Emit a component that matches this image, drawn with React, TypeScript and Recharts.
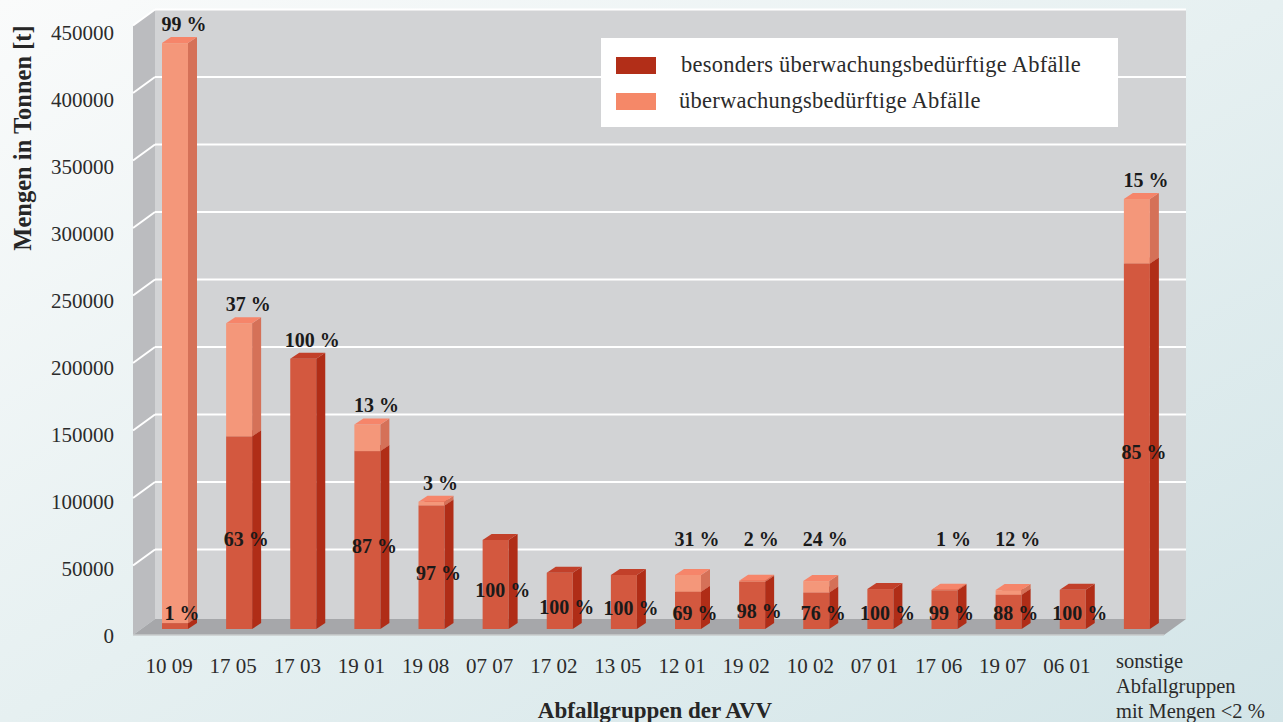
import React from 'react';
import { BarChart, Bar, XAxis, YAxis, CartesianGrid, Legend, LabelList } from 'recharts';

// Waste groups (AVV) and their quantities in tonnes
const categories = [
  '10 09', '17 05', '17 03', '19 01', '19 08', '07 07', '17 02', '13 05',
  '12 01', '19 02', '10 02', '07 01', '17 06', '19 07', '06 01',
  'sonstige\nAbfallgruppen\nmit Mengen <2 %',
];
const totalTonnes = [
  434000, 226500, 200200, 151500, 94300, 66000, 41700, 40000,
  40000, 35800, 35500, 29600, 29000, 28800, 29000, 318500,
];
// share of "besonders überwachungsbedürftige Abfälle" in each group, in percent
const besondersShare = [1, 63, 100, 87, 97, 100, 100, 100, 69, 98, 76, 100, 99, 88, 100, 85];

// label texts printed above each column and inside its lower part
const upperLabels = ['99 %', '37 %', '100 %', '13 %', '3 %', '', '', '', '31 %', '2 %', '24 %', '', '1 %', '12 %', '', '15 %'];
const lowerLabels = ['1 %', '63 %', '', '87 %', '97 %', '100 %', '100 %', '100 %', '69 %', '98 %', '76 %', '100 %', '99 %', '88 %', '100 %', '85 %'];

const yTicks = [0, 50000, 100000, 150000, 200000, 250000, 300000, 350000, 400000, 450000];

const seriesNames = {
  besonders: 'besonders überwachungsbedürftige Abfälle',
  ueber: 'überwachungsbedürftige Abfälle',
};

const rows = categories.map((name, i) => {
  const besonders = (totalTonnes[i] * besondersShare[i]) / 100;
  return {
    name,
    besonders,
    ueber: totalTonnes[i] - besonders,
    upper: upperLabels[i],
    lower: lowerLabels[i],
  };
});

// ---- layout ----
const W = 1283;
const H = 722;
const PLOT_LEFT = 143;
const PLOT_RIGHT = 1169;
const PLOT_TOP = 21.5;
const PLOT_BOTTOM = 629;
const Y_AXIS_W = 60;
const X_AXIS_H = 60;

// pseudo-3D room: back wall, left side wall and floor
const WALL_LEFT = 155;
const WALL_RIGHT = 1186;
const WALL_SHIFT = -12; // back wall sits this far above the column plane
const DEPTH_DX = 22;
const DEPTH_DY = 16;
const WALL_TOP = PLOT_TOP + WALL_SHIFT;
const FLOOR_BACK = PLOT_BOTTOM - 10;
const FLOOR_FRONT = FLOOR_BACK + DEPTH_DY;

// column depth
const BAR_DX = 9;
const BAR_DY = 6;

const FONT = "'Liberation Serif', 'Times New Roman', serif";
const TEXT = '#262626';

const faces = {
  besonders: { front: '#d3583f', side: '#b02d17', top: '#c2402a' },
  ueber: { front: '#f4977a', side: '#d57158', top: '#f6856a' },
};

const makeColumn = (f: { front: string; side: string; top: string }) => (props: any) => {
  const { x, y, width, height } = props;
  if (!(height > 0.05)) return <g />;
  const r = x + width;
  const b = y + height;
  return (
    <g>
      <rect x={x} y={y} width={width} height={height} fill={f.front} />
      <polygon
        points={`${r},${y} ${r + BAR_DX},${y - BAR_DY} ${r + BAR_DX},${b - BAR_DY} ${r},${b}`}
        fill={f.side}
      />
      <polygon
        points={`${x},${y} ${x + BAR_DX},${y - BAR_DY} ${r + BAR_DX},${y - BAR_DY} ${r},${y}`}
        fill={f.top}
      />
    </g>
  );
};

const pctStyle = {
  fontFamily: FONT,
  fontSize: 20,
  fontWeight: 700,
  fill: '#1a1a1a',
};

const UpperLabel = (p: any) => {
  const { x, y, width, value } = p;
  if (!value) return null;
  const cy = Math.min(y - 19, PLOT_BOTTOM - 90);
  return (
    <text x={x + width / 2 + 9} y={cy} textAnchor="middle" dominantBaseline="central" style={pctStyle}>
      {value}
    </text>
  );
};

const LowerLabel = (p: any) => {
  const { x, y, width, height, value } = p;
  if (!value) return null;
  const cy = Math.min(y + height / 2 + 6, PLOT_BOTTOM - 16);
  return (
    <text x={x + width / 2 + 7} y={cy} textAnchor="middle" dominantBaseline="central" style={pctStyle}>
      {value}
    </text>
  );
};

const GridLine = (p: any) => {
  const { y1, index } = p;
  if (y1 > PLOT_BOTTOM - 1) return <g key={`gl-${index}`} />;
  const by = y1 + WALL_SHIFT;
  return (
    <g key={`gl-${index}`}>
      <line x1={WALL_LEFT} y1={by} x2={WALL_RIGHT} y2={by} stroke="#ffffff" strokeWidth={2} />
      <line
        x1={WALL_LEFT - DEPTH_DX}
        y1={by + DEPTH_DY}
        x2={WALL_LEFT}
        y2={by}
        stroke="#ffffff"
        strokeWidth={2}
      />
    </g>
  );
};

// tick labels sit on the front edge of the side wall, slightly compressed by the perspective
const YTick = (p: any) => (
  <text
    x={p.x}
    y={p.y + 7 + (PLOT_BOTTOM - p.y) * 0.0075}
    textAnchor="end"
    dominantBaseline="central"
    style={{ fontFamily: FONT, fontSize: 21, fill: '#2b2b2b' }}
  >
    {p.payload.value}
  </text>
);

const XTick = (p: any) => {
  const lines = String(p.payload.value).split('\n');
  const style = { fontFamily: FONT, fontSize: 21, fill: '#2b2b2b' };
  if (lines.length === 1) {
    return (
      <text x={p.x - 6} y={PLOT_BOTTOM + 37} textAnchor="middle" dominantBaseline="central" style={style}>
        {lines[0]}
      </text>
    );
  }
  return (
    <g>
      {lines.map((t, i) => (
        <text
          key={i}
          x={p.x - 21}
          y={PLOT_BOTTOM + 32 + i * 25}
          textAnchor="start"
          dominantBaseline="central"
          style={{ ...style, fontSize: 20.5 }}
        >
          {t}
        </text>
      ))}
    </g>
  );
};

const LegendBox = (props: any) => {
  const items = props.payload || [];
  return (
    <div
      style={{
        width: 517,
        height: 89,
        background: '#ffffff',
        boxSizing: 'border-box',
        paddingTop: 9,
        paddingLeft: 15,
      }}
    >
      {items.map((it: any, i: number) => (
        <div key={i} style={{ display: 'flex', alignItems: 'center', height: 36 }}>
          <div style={{ width: 40, height: 17, background: it.color, marginRight: i === 0 ? 25 : 23 }} />
          <span
            style={{
              fontFamily: FONT,
              fontSize: 22.5,
              letterSpacing: 0.25,
              color: '#2b2b2b',
              lineHeight: '36px',
            }}
          >
            {it.value}
          </span>
        </div>
      ))}
    </div>
  );
};

const Room = () => (
  <svg width={W} height={H} style={{ position: 'absolute', left: 0, top: 0 }}>
    <defs>
      <linearGradient id="page" x1="0" y1="0" x2="1" y2="1">
        <stop offset="0" stopColor="#fafbfb" />
        <stop offset="0.5" stopColor="#e6f0f1" />
        <stop offset="1" stopColor="#d3e5e8" />
      </linearGradient>
    </defs>
    <rect x={0} y={0} width={W} height={H} fill="url(#page)" />
    {/* back wall */}
    <rect x={WALL_LEFT} y={WALL_TOP} width={WALL_RIGHT - WALL_LEFT} height={FLOOR_BACK - WALL_TOP} fill="#d2d3d5" />
    {/* left side wall */}
    <polygon
      points={`${WALL_LEFT - DEPTH_DX},${WALL_TOP + DEPTH_DY} ${WALL_LEFT},${WALL_TOP} ${WALL_LEFT},${FLOOR_BACK} ${WALL_LEFT - DEPTH_DX},${FLOOR_FRONT}`}
      fill="#bbbcbf"
    />
    {/* floor */}
    <polygon
      points={`${WALL_LEFT},${FLOOR_BACK} ${WALL_RIGHT},${FLOOR_BACK} ${WALL_RIGHT - DEPTH_DX},${FLOOR_FRONT} ${WALL_LEFT - DEPTH_DX},${FLOOR_FRONT}`}
      fill="#a6a7aa"
    />
    <line
      x1={WALL_LEFT - DEPTH_DX}
      y1={FLOOR_FRONT}
      x2={WALL_RIGHT - DEPTH_DX}
      y2={FLOOR_FRONT}
      stroke="#c9cccd"
      strokeWidth={1.5}
    />
  </svg>
);

export default function App() {
  return (
    <div style={{ position: 'absolute', left: 0, top: 0, width: W, height: H, overflow: 'hidden' }}>
      <Room />
      <div style={{ position: 'absolute', left: 0, top: 0 }}>
        <BarChart
          width={W}
          height={H}
          data={rows}
          barSize={26}
          margin={{
            top: PLOT_TOP,
            right: W - PLOT_RIGHT,
            bottom: H - PLOT_BOTTOM - X_AXIS_H,
            left: PLOT_LEFT - Y_AXIS_W,
          }}
        >
          <CartesianGrid vertical={false} horizontal={GridLine} />
          <XAxis
            dataKey="name"
            interval={0}
            axisLine={false}
            tickLine={false}
            tickSize={0}
            height={X_AXIS_H}
            tick={XTick}
            label={() => (
              <text
                x={PLOT_LEFT + (PLOT_RIGHT - PLOT_LEFT) / 2 - 1}
                y={H - 12}
                textAnchor="middle"
                dominantBaseline="central"
                style={{ fontFamily: FONT, fontSize: 23, fontWeight: 700, fill: TEXT }}
              >
                Abfallgruppen der AVV
              </text>
            )}
          />
          <YAxis
            domain={[0, 450000]}
            ticks={yTicks}
            width={Y_AXIS_W}
            axisLine={false}
            tickLine={false}
            tickSize={0}
            tickMargin={29}
            tick={YTick}
            label={() => (
              <text
                x={22}
                y={138}
                transform="rotate(-90, 22, 138)"
                textAnchor="middle"
                dominantBaseline="central"
                style={{ fontFamily: FONT, fontSize: 24.5, fontWeight: 700, fill: TEXT }}
              >
                Mengen in Tonnen [t]
              </text>
            )}
          />
          <Legend
            layout="vertical"
            align="center"
            verticalAlign="middle"
            content={LegendBox}
            wrapperStyle={{ position: 'absolute', left: 601, top: 38, width: 517, height: 89 }}
          />
          <Bar
            dataKey="besonders"
            name={seriesNames.besonders}
            stackId="a"
            fill="#b22e18"
            shape={makeColumn(faces.besonders)}
            isAnimationActive={false}
          >
            <LabelList dataKey="lower" content={LowerLabel} />
          </Bar>
          <Bar
            dataKey="ueber"
            name={seriesNames.ueber}
            stackId="a"
            fill="#f58868"
            shape={makeColumn(faces.ueber)}
            isAnimationActive={false}
          >
            <LabelList dataKey="upper" content={UpperLabel} />
          </Bar>
        </BarChart>
      </div>
    </div>
  );
}
